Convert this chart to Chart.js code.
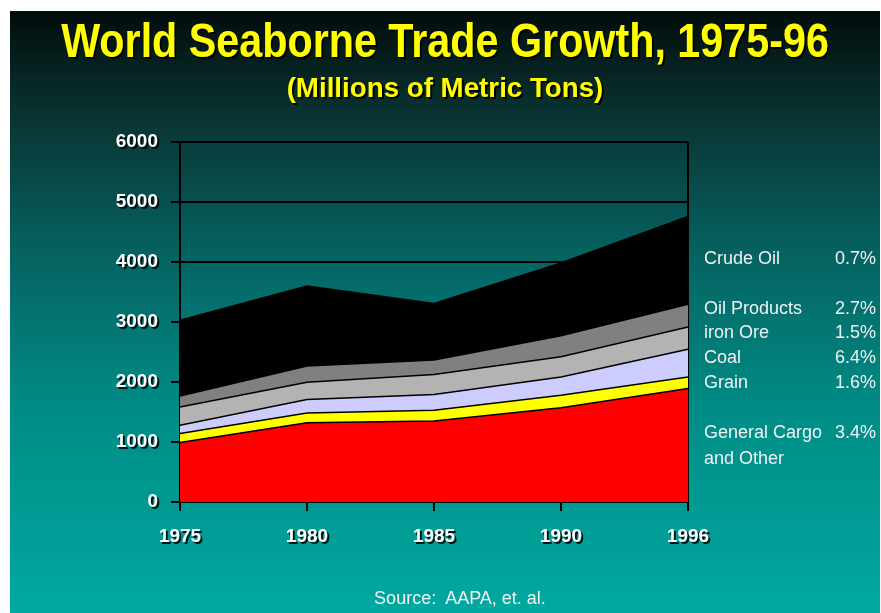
<!DOCTYPE html>
<html>
<head>
<meta charset="utf-8">
<script src="https://cdn.jsdelivr.net/npm/chart.js@4.4.1/dist/chart.umd.min.js"></script>
<style>
  html, body { margin:0; padding:0; background:#ffffff; width:881px; height:613px; overflow:hidden; }
  #slide { position:absolute; left:10px; top:11px; width:870px; height:602px;
    background: linear-gradient(to bottom, #020d0c 0%, #0a3331 17%, #056260 40%, #008c86 66%, #00a9a1 100%); }
  #wrap { position:absolute; left:0; top:0; width:881px; height:613px; }
  .txt { position:absolute; white-space:nowrap; font-family:"Liberation Sans", Arial, sans-serif; line-height:1; }
  #title { left:445px; top:17px; font-size:48px; font-weight:bold; color:#ffff00;
    transform: translateX(-50%) scaleX(0.86); text-shadow: 2px 2px 0 #000; }
  #subtitle { left:445px; top:74px; font-size:28px; font-weight:bold; color:#ffff00;
    transform: translateX(-50%) scaleX(0.99); text-shadow: 2px 2px 0 #000; }
  .lg { color:#f2f2f2; font-size:18px; }
  .pc { color:#f2f2f2; font-size:18px; text-align:right; }
  #source { left:460px; top:589px; font-size:18px; color:#f2f2f2; transform: translateX(-50%); }
</style>
</head>
<body>
<div id="slide"></div>
<div id="wrap"><canvas id="c" width="881" height="613"></canvas></div>
<div class="txt" id="title">World Seaborne Trade Growth, 1975-96</div>
<div class="txt" id="subtitle">(Millions of Metric Tons)</div>
<div class="txt" id="source">Source:&nbsp; AAPA, et. al.</div>
<script>
// ---- data (millions of metric tons, stacked layers) ----
const years = ['1975', '1980', '1985', '1990', '1996'];
const generalCargo = [990, 1320, 1350, 1570, 1890];
const grain        = [150, 165, 180, 210, 195];
const coal         = [140, 225, 260, 305, 460];
const ironOre      = [305, 285, 335, 335, 370];
const oilProducts  = [180, 270, 240, 350, 380];
const crudeOil     = [1265, 1335, 945, 1215, 1465];
const yTickValues  = [0, 1000, 2000, 3000, 4000, 5000, 6000];
const legendNames  = ['Crude Oil', 'Oil Products', 'iron Ore', 'Coal', 'Grain', 'General Cargo', 'and Other'];
const growthRates  = ['0.7%', '2.7%', '1.5%', '6.4%', '1.6%', '3.4%', ''];

// ---- right-hand labels (text from arrays) ----
const legendTops = [249, 299, 323, 348, 373, 423, 449];
legendNames.forEach((name, i) => {
  const a = document.createElement('div');
  a.className = 'txt lg'; a.textContent = name;
  a.style.left = '704px'; a.style.top = legendTops[i] + 'px';
  document.body.appendChild(a);
  if (growthRates[i]) {
    const b = document.createElement('div');
    b.className = 'txt pc'; b.textContent = growthRates[i];
    b.style.right = (881 - 876) + 'px'; b.style.top = legendTops[i] + 'px';
    document.body.appendChild(b);
  }
});

const shadowPlugin = {
  id: 'labelShadow',
  beforeDraw(chart) {
    Object.values(chart.scales).forEach(s => {
      if (s._shadowPatched) return;
      const orig = s.drawLabels.bind(s);
      s.drawLabels = function (area) {
        const c = this.ctx;
        c.save();
        c.shadowColor = 'rgba(0,0,0,0.85)';
        c.shadowOffsetX = 2; c.shadowOffsetY = 2; c.shadowBlur = 0;
        orig(area);
        c.restore();
      };
      s._shadowPatched = true;
    });
  }
};

const layer = (label, data, color, fill) => ({
  label, data, backgroundColor: color, borderColor: '#000', borderWidth: 1.5,
  fill, pointRadius: 0, pointHoverRadius: 0, tension: 0
});

new Chart(document.getElementById('c'), {
  type: 'line',
  data: {
    labels: years,
    datasets: [
      layer('General Cargo and Other', generalCargo, '#ff0000', 'origin'),
      layer('Grain', grain, '#ffff00', '-1'),
      layer('Coal', coal, '#ccccff', '-1'),
      layer('iron Ore', ironOre, '#b3b3b3', '-1'),
      layer('Oil Products', oilProducts, '#808080', '-1'),
      layer('Crude Oil', crudeOil, '#000000', '-1')
    ]
  },
  options: {
    responsive: false,
    animation: false,
    layout: { padding: { left: 100, right: 193, top: 142, bottom: 61 } },
    plugins: { legend: { display: false }, tooltip: { enabled: false }, title: { display: false } },
    scales: {
      x: {
        type: 'category',
        offset: false,
        z: 1,
        afterFit(s) { s.height = 50; },
        grid: {
          color: c => (c.index === 0 || c.index === years.length - 1) ? '#000' : 'rgba(0,0,0,0)',
          tickColor: '#000', lineWidth: 2, tickLength: 9, drawTicks: true
        },
        border: { display: true, color: '#000', width: 2 },
        ticks: { color: '#ffffff', font: { family: '"Liberation Sans", Arial, sans-serif', size: 19, weight: 'bold' },
          padding: 14, maxRotation: 0, autoSkip: false }
      },
      y: {
        stacked: true,
        min: 0, max: 6000,
        afterFit(s) { s.width = 80; },
        afterBuildTicks(s) { s.ticks = yTickValues.map(v => ({ value: v })); },
        grid: { color: '#000', tickColor: '#000', lineWidth: 2, tickLength: 9, drawTicks: true },
        border: { display: true, color: '#000', width: 2 },
        ticks: { color: '#ffffff', font: { family: '"Liberation Sans", Arial, sans-serif', size: 19, weight: 'bold' },
          padding: 13, callback: v => String(v) }
      }
    }
  },
  plugins: [shadowPlugin]
});
</script>
</body>
</html>
